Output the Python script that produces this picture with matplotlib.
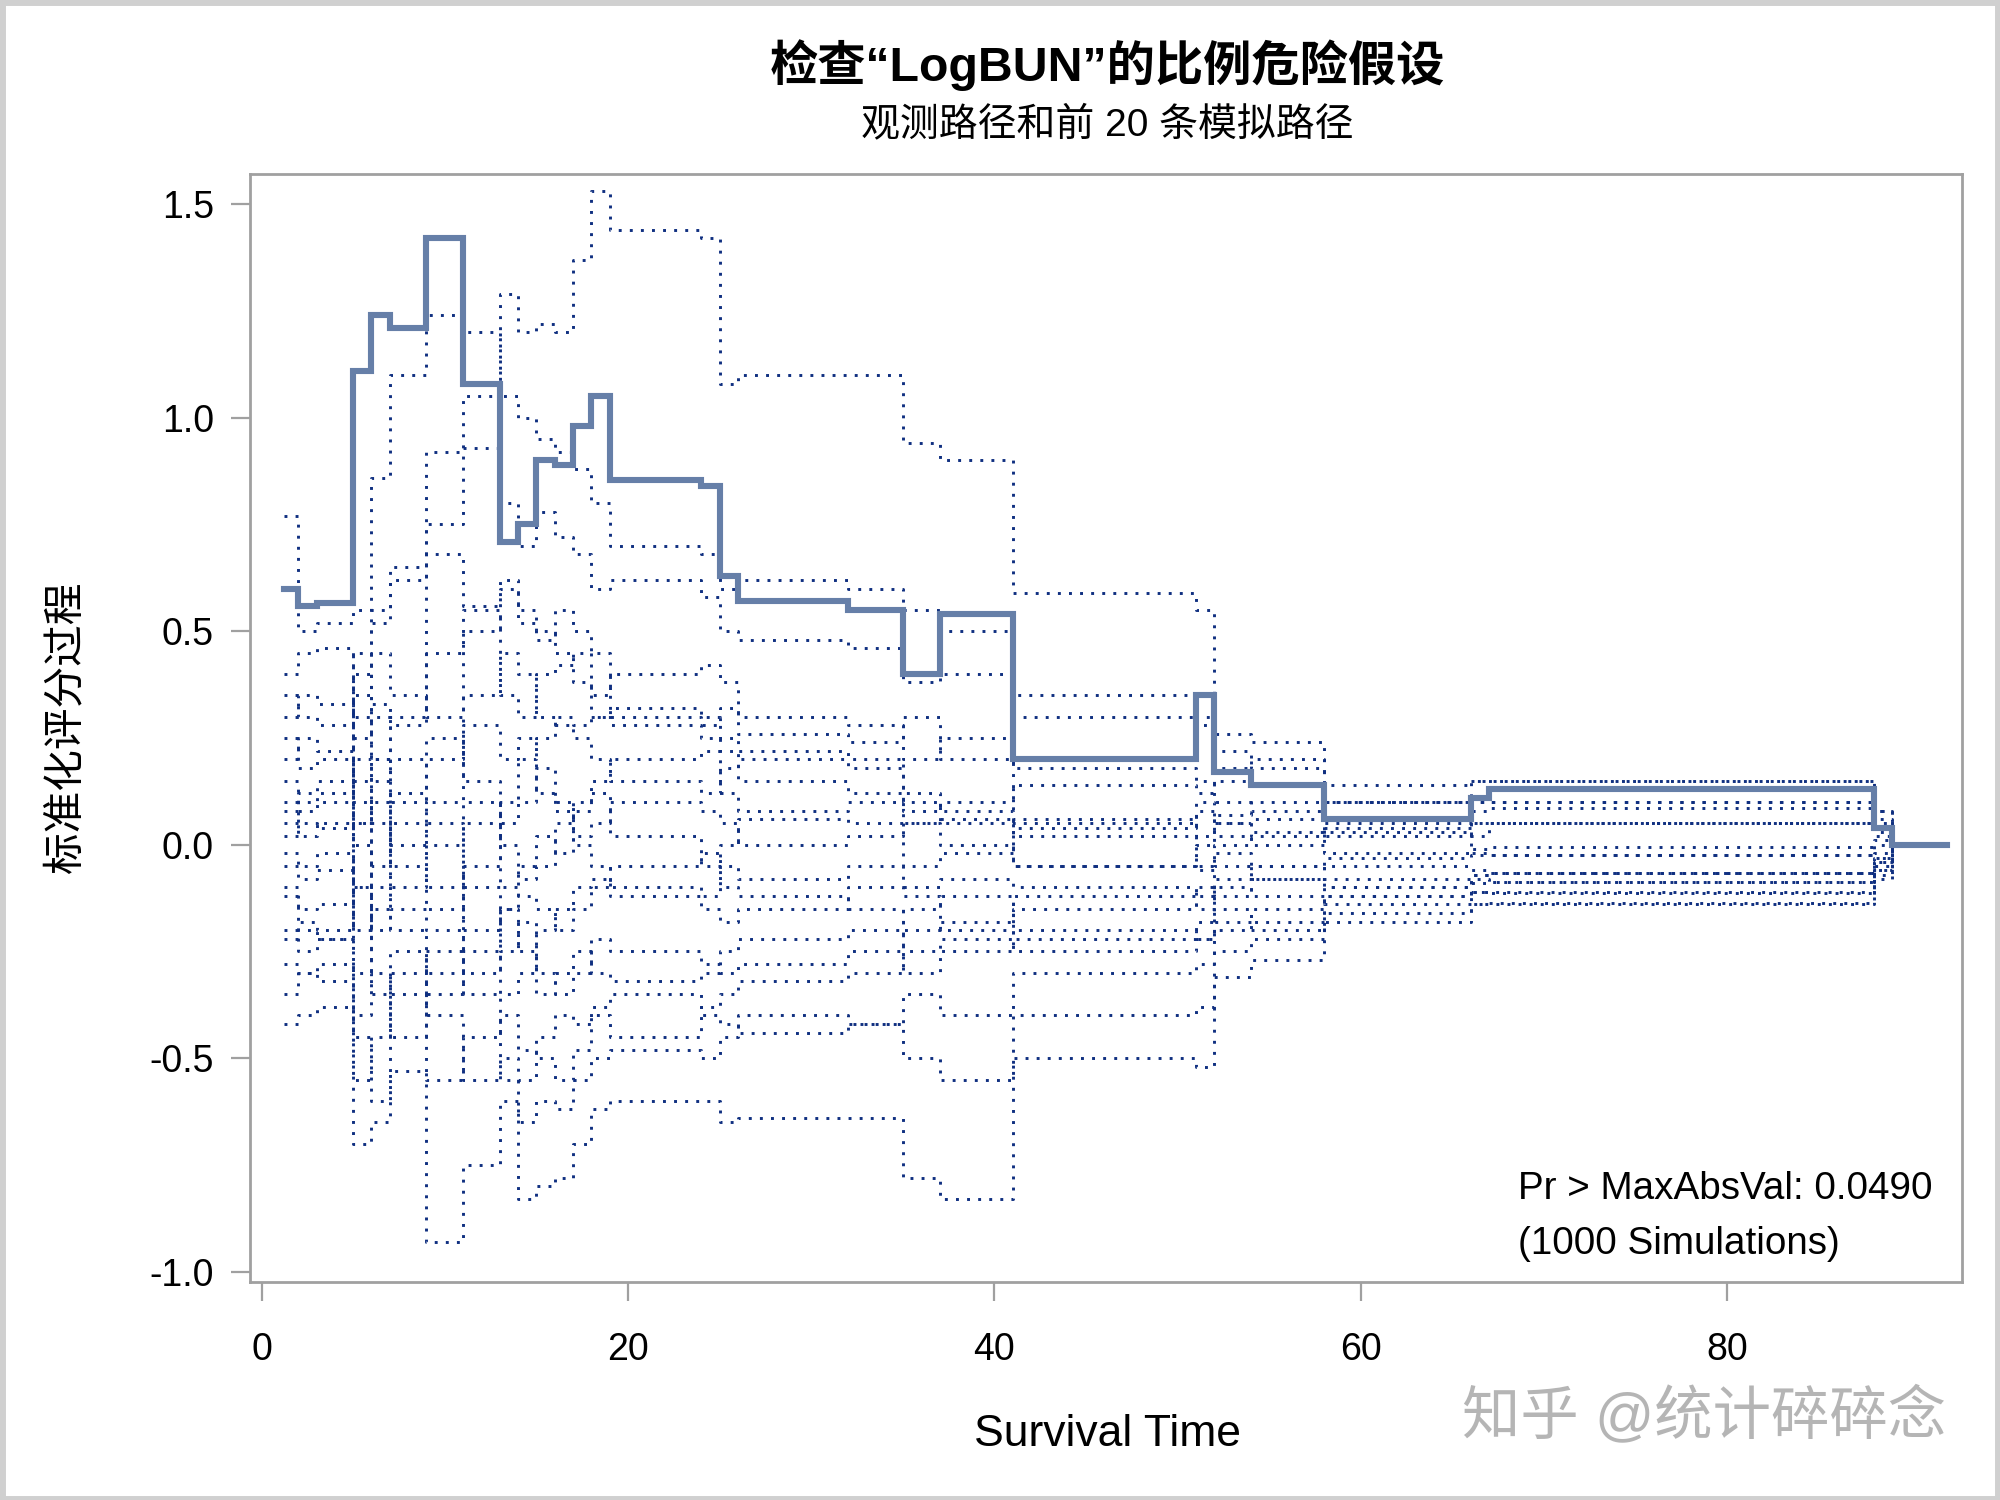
import numpy as np
import matplotlib
matplotlib.use("Agg")
import matplotlib.pyplot as plt
from matplotlib.patches import Rectangle

plt.rcParams['font.family'] = ['Liberation Sans', 'Noto Sans CJK SC', 'DejaVu Sans']
plt.rcParams['axes.unicode_minus'] = False

# event times (survival time) at which the score process jumps
times = [1.25, 2, 3, 5, 6, 7, 9, 11, 13, 14, 15, 16, 17, 18, 19, 24, 25, 26,
         32, 35, 37, 41, 51, 52, 54, 58, 66, 67, 88, 89, 92]

observed = [0.60, 0.56, 0.565, 1.11, 1.24, 1.21, 1.42, 1.08, 0.71, 0.75, 0.90,
            0.89, 0.98, 1.05, 0.855, 0.84, 0.63, 0.57, 0.55, 0.40, 0.54, 0.20,
            0.35, 0.17, 0.14, 0.06, 0.11, 0.13, 0.04, 0.0, 0.0]

# first 20 simulated paths
sim_01 = [0.05, 0.10, 0.12, 0.35, 0.55, 0.65, 0.92, 1.05, 1.29, 1.20, 1.22, 1.20, 1.37, 1.53, 1.44, 1.42, 1.08, 1.10, 1.10, 0.94, 0.90, 0.59, 0.55, 0.26, 0.24, 0.14, 0.15, 0.15, 0.05, 0, 0]
sim_02 = [0.77, 0.50, 0.52, 0.55, 0.86, 1.10, 1.24, 1.20, 1.05, 1.00, 0.95, 0.92, 0.88, 0.80, 0.70, 0.68, 0.60, 0.62, 0.60, 0.55, 0.50, 0.35, 0.30, 0.18, 0.20, 0.10, 0.10, 0.10, 0.08, 0, 0]
sim_03 = [-0.10, -0.20, -0.22, -0.45, -0.60, -0.53, -0.93, -0.75, -0.60, -0.83, -0.80, -0.78, -0.70, -0.62, -0.60, -0.60, -0.65, -0.64, -0.64, -0.78, -0.83, -0.50, -0.52, -0.31, -0.27, -0.18, -0.14, -0.14, -0.08, 0, 0]
sim_04 = [-0.42, -0.40, -0.38, -0.70, -0.65, -0.30, -0.40, -0.55, -0.50, -0.55, -0.45, -0.40, -0.42, -0.38, -0.35, -0.40, -0.42, -0.44, -0.42, -0.50, -0.55, -0.40, -0.38, -0.25, -0.22, -0.16, -0.11, -0.11, -0.06, 0, 0]
sim_05 = [0.40, 0.45, 0.46, 0.30, 0.52, 0.62, 0.75, 0.93, 0.80, 0.70, 0.78, 0.72, 0.68, 0.60, 0.62, 0.58, 0.50, 0.48, 0.46, 0.38, 0.40, 0.30, 0.28, 0.22, 0.18, 0.10, 0.08, 0.085, 0.04, 0, 0]
sim_06 = [0.25, 0.18, 0.20, 0.05, 0.33, 0.28, 0.68, 0.56, 0.60, 0.52, 0.48, 0.55, 0.50, 0.45, 0.30, 0.28, 0.32, 0.26, 0.24, 0.30, 0.20, 0.06, 0.02, 0.07, 0.10, 0.02, 0.05, 0.05, 0.02, 0, 0]
sim_07 = [0.08, 0.02, 0.05, -0.10, 0.15, 0.20, 0.10, 0.35, 0.45, 0.40, 0.30, 0.28, 0.25, 0.20, 0.15, 0.12, 0.18, 0.20, 0.18, 0.12, 0.08, 0.02, -0.05, 0.00, 0.03, -0.02, -0.01, -0.006, 0.01, 0, 0]
sim_08 = [-0.05, -0.08, -0.06, -0.20, -0.05, 0.12, 0.25, 0.15, 0.05, 0.10, 0.18, 0.10, 0.02, 0.05, 0.10, 0.08, 0.05, 0.00, 0.02, 0.05, 0.06, -0.05, -0.06, -0.02, -0.05, -0.03, -0.025, -0.025, -0.03, 0, 0]
sim_09 = [0.15, 0.08, 0.10, 0.20, 0.05, -0.05, -0.10, -0.20, -0.15, -0.05, 0.02, -0.02, 0.08, 0.12, 0.02, -0.05, 0.00, 0.06, 0.05, -0.05, -0.02, 0.04, 0.10, 0.05, 0.06, 0.04, 0.05, 0.05, 0.06, 0, 0]
sim_10 = [-0.20, -0.25, -0.22, -0.10, -0.30, -0.45, -0.35, -0.25, -0.35, -0.30, -0.20, -0.15, -0.10, -0.08, -0.12, -0.15, -0.18, -0.15, -0.10, -0.12, -0.20, -0.22, -0.18, -0.10, -0.12, -0.14, -0.14, -0.137, -0.07, 0, 0]
sim_11 = [0.35, 0.30, 0.28, 0.45, 0.20, 0.30, 0.45, 0.50, 0.62, 0.55, 0.50, 0.45, 0.38, 0.30, 0.32, 0.30, 0.25, 0.22, 0.20, 0.08, 0.10, 0.14, 0.12, 0.15, 0.14, 0.10, 0.15, 0.15, 0.08, 0, 0]
sim_12 = [-0.28, -0.30, -0.28, -0.40, -0.15, -0.20, -0.55, -0.45, -0.40, -0.48, -0.50, -0.55, -0.48, -0.40, -0.45, -0.38, -0.35, -0.32, -0.30, -0.25, -0.22, -0.25, -0.22, -0.20, -0.15, -0.10, -0.09, -0.088, -0.04, 0, 0]
sim_13 = [0.02, 0.05, 0.04, 0.25, 0.30, 0.10, -0.15, -0.05, 0.10, 0.20, 0.25, 0.30, 0.28, 0.30, 0.28, 0.25, 0.22, 0.15, 0.12, 0.10, 0.05, 0.05, 0.08, 0.02, 0.00, 0.03, 0.02, 0.05, 0.03, 0, 0]
sim_14 = [-0.12, -0.15, -0.14, 0.10, -0.20, -0.10, 0.05, -0.10, -0.25, -0.18, -0.30, -0.35, -0.30, -0.22, -0.25, -0.28, -0.30, -0.28, -0.25, -0.15, -0.12, -0.20, -0.22, -0.15, -0.18, -0.12, -0.07, -0.067, -0.05, 0, 0]
sim_15 = [0.20, 0.25, 0.22, 0.00, -0.10, 0.05, 0.20, 0.28, 0.20, 0.25, 0.12, 0.08, 0.00, -0.05, -0.10, -0.12, -0.05, -0.08, -0.05, -0.10, -0.08, -0.10, -0.12, -0.08, -0.05, -0.08, -0.07, -0.067, -0.02, 0, 0]
sim_16 = [-0.35, -0.30, -0.32, -0.55, -0.45, -0.35, -0.25, -0.30, -0.15, -0.25, -0.35, -0.30, -0.25, -0.30, -0.32, -0.30, -0.25, -0.22, -0.20, -0.30, -0.25, -0.15, -0.10, -0.12, -0.08, -0.10, -0.11, -0.113, -0.06, 0, 0]
sim_17 = [0.10, 0.12, 0.15, 0.40, 0.45, 0.35, 0.30, 0.55, 0.35, 0.30, 0.40, 0.42, 0.45, 0.35, 0.40, 0.42, 0.38, 0.30, 0.28, 0.20, 0.25, 0.18, 0.15, 0.10, 0.08, 0.06, 0.10, 0.10, 0.04, 0, 0]
sim_18 = [-0.22, -0.18, -0.20, 0.05, 0.10, -0.15, -0.20, -0.35, -0.55, -0.65, -0.60, -0.62, -0.55, -0.50, -0.48, -0.50, -0.45, -0.40, -0.42, -0.35, -0.40, -0.30, -0.28, -0.18, -0.20, -0.12, -0.08, -0.088, -0.03, 0, 0]
sim_19 = [0.30, 0.35, 0.33, 0.15, 0.20, 0.00, 0.00, 0.10, 0.00, -0.08, -0.05, 0.05, 0.10, 0.15, 0.20, 0.22, 0.12, 0.08, 0.10, 0.05, 0.00, -0.05, 0.00, 0.05, 0.02, 0.05, -0.02, -0.025, 0.00, 0, 0]
sim_20 = [-0.02, -0.05, -0.02, -0.30, -0.35, -0.25, -0.30, 0.05, -0.10, -0.12, -0.15, -0.20, -0.15, -0.10, -0.05, -0.02, -0.10, -0.12, -0.15, -0.20, -0.18, -0.12, -0.15, -0.05, -0.08, -0.05, -0.06, -0.067, -0.04, 0, 0]

sim_paths = [sim_01, sim_02, sim_03, sim_04, sim_05, sim_06, sim_07, sim_08, sim_09, sim_10,
             sim_11, sim_12, sim_13, sim_14, sim_15, sim_16, sim_17, sim_18, sim_19, sim_20]

x_ticks = [0, 20, 40, 60, 80]
y_ticks = [-1.0, -0.5, 0.0, 0.5, 1.0, 1.5]

frame_col = '#a0a0a0'
obs_col = '#667fa8'
sim_col = '#0f2f80'

fig = plt.figure(figsize=(10, 7.5), dpi=200)
fig.patches.append(Rectangle((0.001, 0.001), 0.998, 0.998, transform=fig.transFigure,
                             fill=False, edgecolor='#d0d0d0', linewidth=2.5))

ax = fig.add_axes([0.125, 0.1454, 0.856, 0.7389])

for path in sim_paths:
    ax.step(times, path, where='post', color=sim_col, linewidth=1.05,
            linestyle=(0, (1, 2.8)))
ax.step(times, observed, where='post', color=obs_col, linewidth=2.2,
        solid_joinstyle='miter')

ax.set_xlim(-0.63, 92.8)
ax.set_ylim(-1.024, 1.572)
ax.set_xticks(x_ticks)
ax.set_yticks(y_ticks)
ax.set_yticklabels([f"{v:.1f}" for v in y_ticks])
ax.tick_params(axis='both', direction='out', length=7, width=0.8, color=frame_col,
               labelsize=13.5, labelcolor='black')
ax.tick_params(axis='x', pad=11)
ax.tick_params(axis='y', pad=6)
for sp in ax.spines.values():
    sp.set_color(frame_col)
    sp.set_linewidth(1.0)

fig.text(0.5536, 0.9565, "检查“LogBUN”的比例危险假设", ha='center', va='center',
         fontsize=17.4, fontweight='bold')
fig.text(0.5536, 0.9167, "观测路径和前 20 条模拟路径", ha='center', va='center', fontsize=14)
fig.text(0.0332, 0.515, "标准化评分过程", ha='center', va='center', rotation=90, fontsize=15)
fig.text(0.5536, 0.044, "Survival Time", ha='center', va='center', fontsize=16)
fig.text(0.759, 0.2075, "Pr > MaxAbsVal: 0.0490", ha='left', va='center', fontsize=13.9)
fig.text(0.759, 0.171, "(1000 Simulations)", ha='left', va='center', fontsize=13.9)
fig.text(0.852, 0.056, "知乎 @统计碎碎念", ha='center', va='center', fontsize=21,
         color='#b5b5b5')

fig.savefig("out.png", dpi=200)
